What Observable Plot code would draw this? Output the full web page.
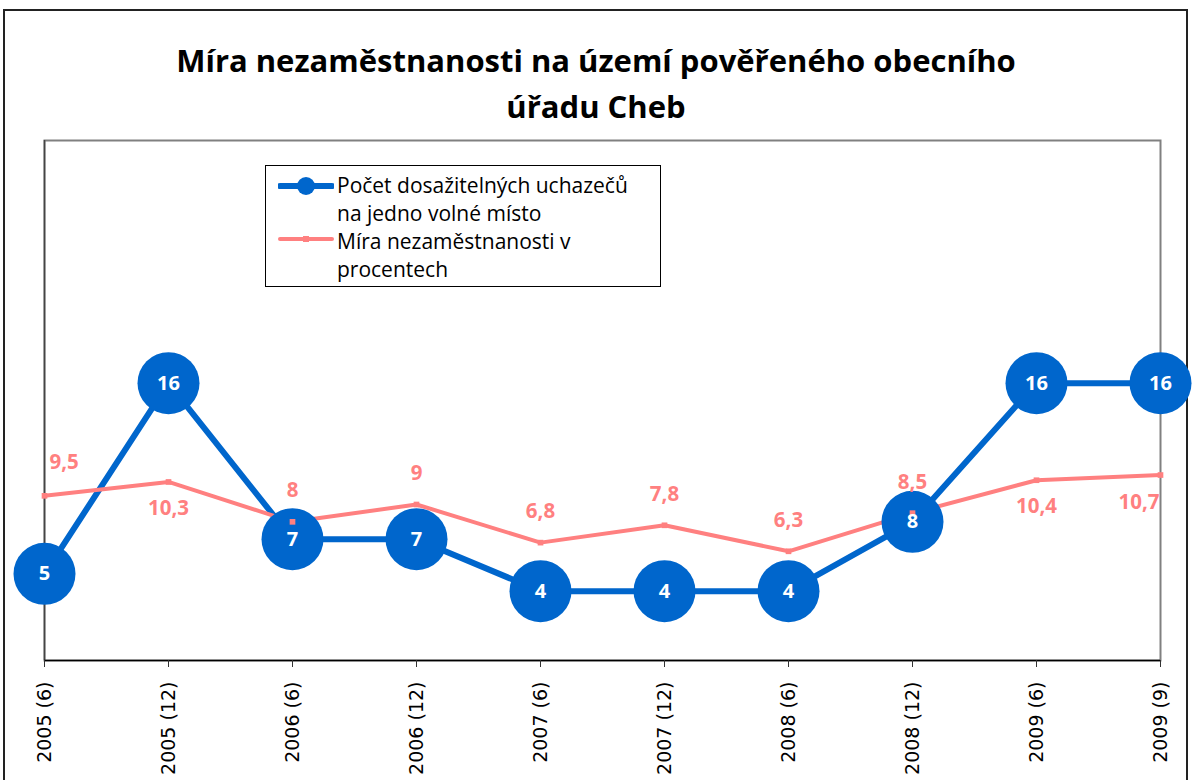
<!DOCTYPE html>
<html>
<head>
<meta charset="utf-8">
<script src="https://cdn.jsdelivr.net/npm/d3@7"></script>
<script src="https://cdn.jsdelivr.net/npm/@observablehq/plot@0.6"></script>
<style>
  html, body { margin: 0; padding: 0; background: #fff; }
  #wrap { position: relative; width: 1192px; height: 780px; overflow: hidden; background: #fff; }
  #outer { position: absolute; left: 3px; top: 9px; width: 1185px; height: 820px; border: 2px solid #222; box-sizing: border-box; }
  #title { position: absolute; left: 0; top: 37px; width: 1192px; text-align: center;
           font-family: "Open Sans", sans-serif; font-weight: 700; font-size: 31px; line-height: 46px; color: #000; }
  #legend { position: absolute; left: 265px; top: 165px; width: 396px; height: 122px; border: 1px solid #000;
            box-sizing: border-box; background: #fff; font-family: "Open Sans", sans-serif; font-size: 21px; line-height: 28px; color: #000; }
  .item { position: absolute; left: 71px; white-space: nowrap; }
  .sw { position: absolute; left: 12px; }
  #chart { position: absolute; left: 0; top: 0; }
</style>
</head>
<body>
<div id="wrap">
  <div id="outer"></div>
  <div id="chart"></div>
  <div id="title">Míra nezaměstnanosti na území pověřeného obecního<br>úřadu Cheb</div>
  <div id="legend"></div>
</div>
<script>
// Data
const categories = ["2005 (6)", "2005 (12)", "2006 (6)", "2006 (12)", "2007 (6)", "2007 (12)", "2008 (6)", "2008 (12)", "2009 (6)", "2009 (9)"];
const applicantsPerVacancy = [5, 16, 7, 7, 4, 4, 4, 8, 16, 16];
const unemploymentRate = [9.5, 10.3, 8, 9, 6.8, 7.8, 6.3, 8.5, 10.4, 10.7];
const seriesNames = ["Počet dosažitelných uchazečů na jedno volné místo", "Míra nezaměstnanosti v procentech"];

const blue = "#0066CC";
const pink = "#FF8080";

const rows = categories.map((c, i) => ({cat: c, i, a: applicantsPerVacancy[i], u: unemploymentRate[i]}));
const fmt = v => String(v).replace(".", ",");
const belowIdx = new Set([1, 8, 9]);
const last = categories.length - 1;

const above = rows.filter(d => !belowIdx.has(d.i) && d.i !== 0);
const below = rows.filter(d => belowIdx.has(d.i) && d.i !== last);
const lblFont = {fill: pink, fontSize: 20.5, fontWeight: "bold", fontFamily: "Open Sans"};

const chart = Plot.plot({
  width: 1192,
  height: 780,
  marginTop: 140,
  marginLeft: 44,
  marginRight: 32,
  marginBottom: 120,
  x: {type: "point", domain: categories, padding: 0},
  y: {domain: [0, 30], axis: null},
  style: {background: "transparent"},
  marks: [
    Plot.frame({stroke: "#808080", strokeWidth: 2}),
    Plot.ruleX([categories[0]], {stroke: "#444", strokeWidth: 1.5}),
    Plot.ruleY([0], {stroke: "#000", strokeWidth: 1.5}),
    Plot.axisX({tickRotate: -90, tickSize: 7, tickPadding: 14, fontSize: 19, fontFamily: "DejaVu Sans", label: null, stroke: "#333"}),
    Plot.line(rows, {x: "cat", y: "a", stroke: blue, strokeWidth: 6}),
    Plot.line(rows, {x: "cat", y: "u", stroke: pink, strokeWidth: 4}),
    Plot.dot(rows, {x: "cat", y: "a", r: 31, fill: blue}),
    Plot.dot(rows, {x: "cat", y: "u", symbol: "square", r: 3.2, fill: pink}),
    Plot.text(rows, {x: "cat", y: "a", text: d => String(d.a), fill: "#fff", fontSize: 20, fontWeight: "bold", fontFamily: "Open Sans"}),
    Plot.text(above, {x: "cat", y: "u", text: d => fmt(d.u), ...lblFont, dy: -31}),
    Plot.text(below, {x: "cat", y: "u", text: d => fmt(d.u), ...lblFont, dy: 26}),
    Plot.text(rows.filter(d => d.i === 0), {x: "cat", y: "u", text: d => fmt(d.u), ...lblFont, dy: -33, dx: 5, textAnchor: "start"}),
    Plot.text(rows.filter(d => d.i === last), {x: "cat", y: "u", text: d => fmt(d.u), ...lblFont, dy: 27, dx: -1, textAnchor: "end"})
  ]
});
document.getElementById("chart").appendChild(chart);

// Legend
const lg = document.getElementById("legend");
lg.innerHTML = `
  <svg class="sw" style="top:8px" width="56" height="24"><line x1="2" x2="54" y1="12" y2="12" stroke="${blue}" stroke-width="6" stroke-linecap="round"/><circle cx="28" cy="12" r="9" fill="${blue}"/></svg>
  <div class="item" style="top:5px">Počet dosažitelných uchazečů<br>na jedno volné místo</div>
  <svg class="sw" style="top:61px" width="56" height="24"><line x1="2" x2="54" y1="12" y2="12" stroke="${pink}" stroke-width="4" stroke-linecap="round"/><rect x="25" y="9" width="6" height="6" fill="${pink}"/></svg>
  <div class="item" style="top:61px">Míra nezaměstnanosti v<br>procentech</div>`;
</script>
</body>
</html>
